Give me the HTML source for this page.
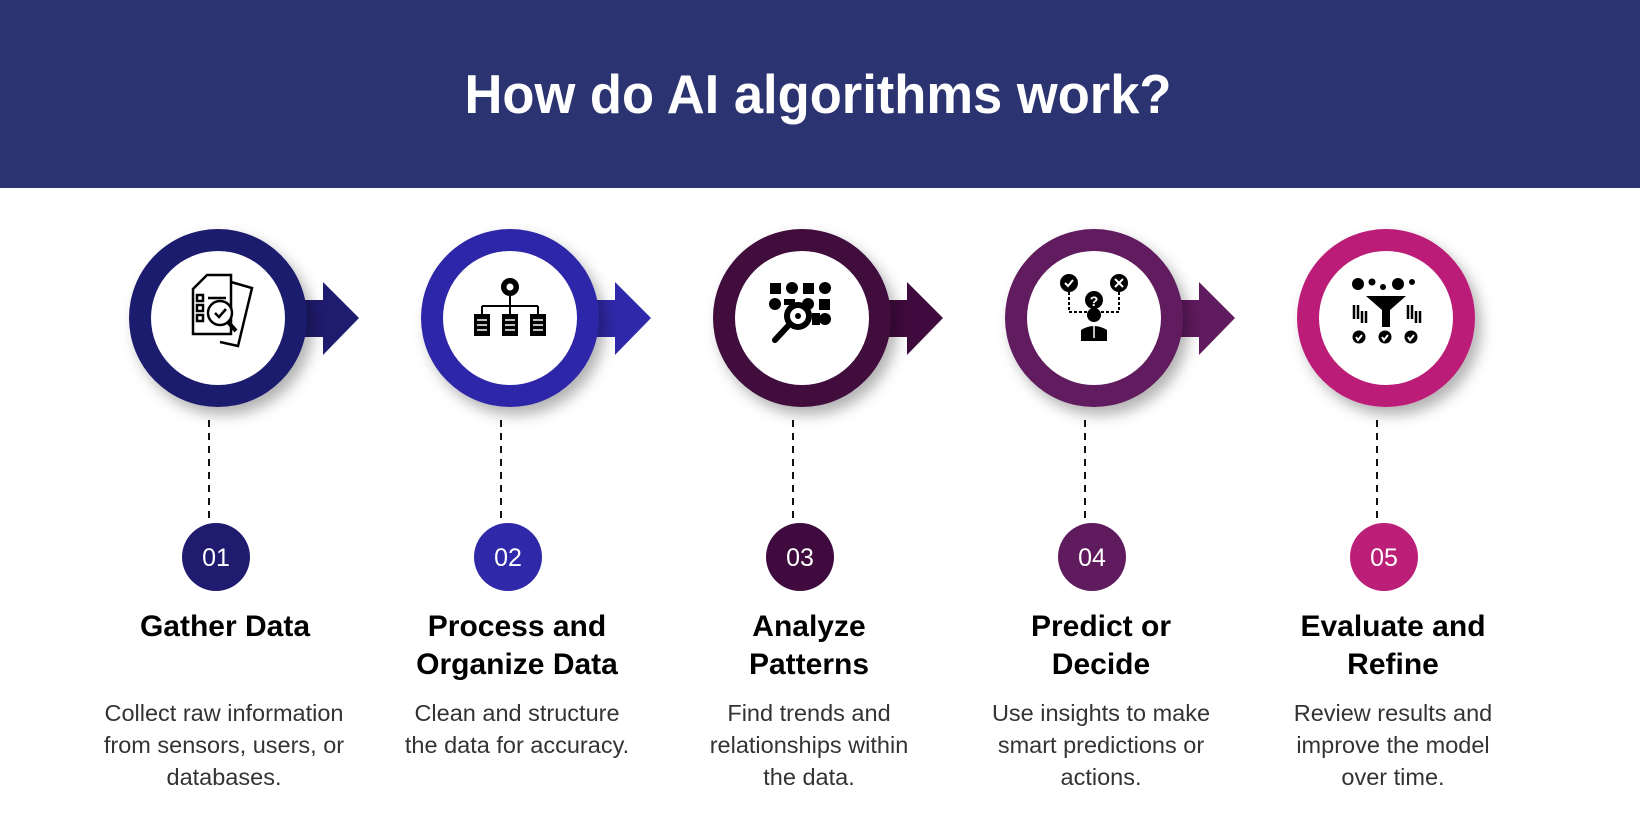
<!DOCTYPE html>
<html><head><meta charset="utf-8"><style>
html,body{margin:0;padding:0;background:#fff;}
svg{display:block;font-family:"Liberation Sans",sans-serif;}
.h{font-weight:bold;font-size:30px;fill:#000;text-anchor:middle;}
.d{font-size:23.5px;fill:#333;text-anchor:middle;}
.n{font-size:25px;fill:#fff;text-anchor:middle;}
</style></head><body>
<svg width="1640" height="840" viewBox="0 0 1640 840" xmlns="http://www.w3.org/2000/svg">
<defs>
<filter id="sh" x="-30%" y="-30%" width="160%" height="160%"><feDropShadow dx="6" dy="8" stdDeviation="7" flood-color="#000" flood-opacity="0.3"/></filter>
</defs>
<rect x="0" y="0" width="1640" height="188" fill="#2b3470"/>
<text x="818" y="113" font-size="55" font-weight="bold" fill="#fff" text-anchor="middle" textLength="707" lengthAdjust="spacingAndGlyphs">How do AI algorithms work?</text>

<g transform="translate(218,0)">
<path d="M80,300 H105 V282 L141,318 L105,355 V337 H80 Z" fill="#1f1b6e"/>
<circle cx="0" cy="318" r="89" fill="#1f1b6e" filter="url(#sh)"/>
<circle cx="0" cy="318" r="67" fill="#fff"/>
<line x1="-9" y1="420" x2="-9" y2="524" stroke="#111" stroke-width="2" stroke-dasharray="7,6"/>
<circle cx="-2" cy="557" r="34" fill="#1f1b6e"/>
</g>
<g transform="translate(510,0)">
<path d="M80,300 H105 V282 L141,318 L105,355 V337 H80 Z" fill="#2f28a8"/>
<circle cx="0" cy="318" r="89" fill="#2f28a8" filter="url(#sh)"/>
<circle cx="0" cy="318" r="67" fill="#fff"/>
<line x1="-9" y1="420" x2="-9" y2="524" stroke="#111" stroke-width="2" stroke-dasharray="7,6"/>
<circle cx="-2" cy="557" r="34" fill="#2f28a8"/>
</g>
<g transform="translate(802,0)">
<path d="M80,300 H105 V282 L141,318 L105,355 V337 H80 Z" fill="#3f0a3d"/>
<circle cx="0" cy="318" r="89" fill="#3f0a3d" filter="url(#sh)"/>
<circle cx="0" cy="318" r="67" fill="#fff"/>
<line x1="-9" y1="420" x2="-9" y2="524" stroke="#111" stroke-width="2" stroke-dasharray="7,6"/>
<circle cx="-2" cy="557" r="34" fill="#3f0a3d"/>
</g>
<g transform="translate(1094,0)">
<path d="M80,300 H105 V282 L141,318 L105,355 V337 H80 Z" fill="#601a5e"/>
<circle cx="0" cy="318" r="89" fill="#601a5e" filter="url(#sh)"/>
<circle cx="0" cy="318" r="67" fill="#fff"/>
<line x1="-9" y1="420" x2="-9" y2="524" stroke="#111" stroke-width="2" stroke-dasharray="7,6"/>
<circle cx="-2" cy="557" r="34" fill="#601a5e"/>
</g>
<g transform="translate(1386,0)">
<circle cx="0" cy="318" r="89" fill="#bb1f78" filter="url(#sh)"/>
<circle cx="0" cy="318" r="67" fill="#fff"/>
<line x1="-9" y1="420" x2="-9" y2="524" stroke="#111" stroke-width="2" stroke-dasharray="7,6"/>
<circle cx="-2" cy="557" r="34" fill="#bb1f78"/>
</g>

<g transform="translate(218,318)" fill="none" stroke="#000" stroke-width="2.5">
<path d="M-25,-29 L-11,-43 H13 V16 H-25 Z" fill="#fff"/>
<path d="M13,-36 L34,-30 L20,28 L2,24"/>
<rect x="-21" y="-23" width="6" height="6"/><rect x="-21" y="-13" width="6" height="6"/><rect x="-21" y="-3" width="6" height="6"/>
<line x1="-10" y1="-20" x2="8" y2="-20"/><line x1="-10" y1="-10" x2="0" y2="-10"/>
<circle cx="2" cy="-5" r="12" fill="#fff"/>
<path d="M-3,-5 L1,-1 L8,-9"/><path d="M10,4 L18,13" stroke-width="4"/>
</g>
<g transform="translate(510,318)" fill="#000">
<circle cx="0" cy="-31" r="9"/><circle cx="0" cy="-31" r="3.5" fill="#fff"/>
<g stroke="#000" stroke-width="2" fill="none"><path d="M0,-22 V-12 M-28,-12 H28 M-28,-12 V-4 M0,-12 V-4 M28,-12 V-4"/></g>
<rect x="-36" y="-4" width="16" height="22"/><rect x="-8" y="-4" width="16" height="22"/><rect x="20" y="-4" width="16" height="22"/>
<g stroke="#fff" stroke-width="1.5"><path d="M-33,2h10M-33,7h10M-33,12h10M-5,2h10M-5,7h10M-5,12h10M23,2h10M23,7h10M23,12h10"/></g>
</g>
<g transform="translate(802,318)" fill="#000">
<rect x="-32" y="-35" width="11" height="11"/><circle cx="-10" cy="-30" r="6"/><rect x="1" y="-35" width="11" height="11"/><circle cx="23" cy="-30" r="6"/>
<circle cx="-27" cy="-14" r="6"/><rect x="-18" y="-19" width="11" height="6"/><circle cx="6" cy="-14" r="6"/><rect x="17" y="-19" width="11" height="11"/>
<rect x="10" y="-5" width="8" height="12"/><circle cx="23" cy="1" r="6"/>
<circle cx="-4" cy="-2" r="14"/><circle cx="-4" cy="-2" r="8" fill="#fff"/><circle cx="-4" cy="-2" r="3"/>
<path d="M-14,8 L-27,22" stroke="#000" stroke-width="6" stroke-linecap="round"/>
</g>
<g transform="translate(1094,318)" fill="#000">
<circle cx="-25" cy="-35" r="9"/><circle cx="25" cy="-35" r="9"/><circle cx="0" cy="-18" r="9"/>
<path d="M-29,-35 l3,3 l5,-6" stroke="#fff" stroke-width="2" fill="none"/>
<path d="M21,-39 l8,8 M29,-39 l-8,8" stroke="#fff" stroke-width="2"/>
<text x="0" y="-12" font-size="14" font-weight="bold" fill="#fff" text-anchor="middle">?</text>
<path d="M-25,-26 V-6 H-6 M25,-26 V-6 H6" stroke="#000" stroke-width="2" stroke-dasharray="3,2" fill="none"/>
<circle cx="0" cy="-3" r="7"/><path d="M-13,23 V12 Q0,4 13,12 V23 Z"/>
<path d="M0,8 V20" stroke="#fff" stroke-width="1.5"/>
</g>
<g transform="translate(1386,318)" fill="#000">
<circle cx="-28" cy="-34" r="6"/><circle cx="-14" cy="-36" r="3.5"/><circle cx="-3" cy="-31" r="3"/><circle cx="12" cy="-34" r="6"/><circle cx="26" cy="-36" r="3"/>
<path d="M-20,-22 H20 L4,-8 V9 H-4 V-8 Z"/>
<path d="M-32,-13v14M-28,-13v14M-24,-7v12M-20,-7v12M22,-13v14M26,-13v14M30,-7v12M34,-7v12" stroke="#000" stroke-width="2.5"/>
<circle cx="-27" cy="19" r="6.5"/><circle cx="-1" cy="19" r="6.5"/><circle cx="25" cy="19" r="6.5"/>
<path d="M-30,19l2,3l4,-5M-4,19l2,3l4,-5M22,19l2,3l4,-5" stroke="#fff" stroke-width="2" fill="none"/>
</g>

<text class="n" x="216" y="566">01</text>
<text class="n" x="508" y="566">02</text>
<text class="n" x="800" y="566">03</text>
<text class="n" x="1092" y="566">04</text>
<text class="n" x="1384" y="566">05</text>

<text class="h" x="225" y="636">Gather Data</text>
<text class="h" x="517" y="636">Process and</text><text class="h" x="517" y="674">Organize Data</text>
<text class="h" x="809" y="636">Analyze</text><text class="h" x="809" y="674">Patterns</text>
<text class="h" x="1101" y="636">Predict or</text><text class="h" x="1101" y="674">Decide</text>
<text class="h" x="1393" y="636">Evaluate and</text><text class="h" x="1393" y="674">Refine</text>

<text class="d" x="224" y="721">Collect raw information</text><text class="d" x="224" y="753">from sensors, users, or</text><text class="d" x="224" y="785">databases.</text>
<text class="d" x="517" y="721">Clean and structure</text><text class="d" x="517" y="753">the data for accuracy.</text>
<text class="d" x="809" y="721">Find trends and</text><text class="d" x="809" y="753">relationships within</text><text class="d" x="809" y="785">the data.</text>
<text class="d" x="1101" y="721">Use insights to make</text><text class="d" x="1101" y="753">smart predictions or</text><text class="d" x="1101" y="785">actions.</text>
<text class="d" x="1393" y="721">Review results and</text><text class="d" x="1393" y="753">improve the model</text><text class="d" x="1393" y="785">over time.</text>
</svg>
</body></html>
